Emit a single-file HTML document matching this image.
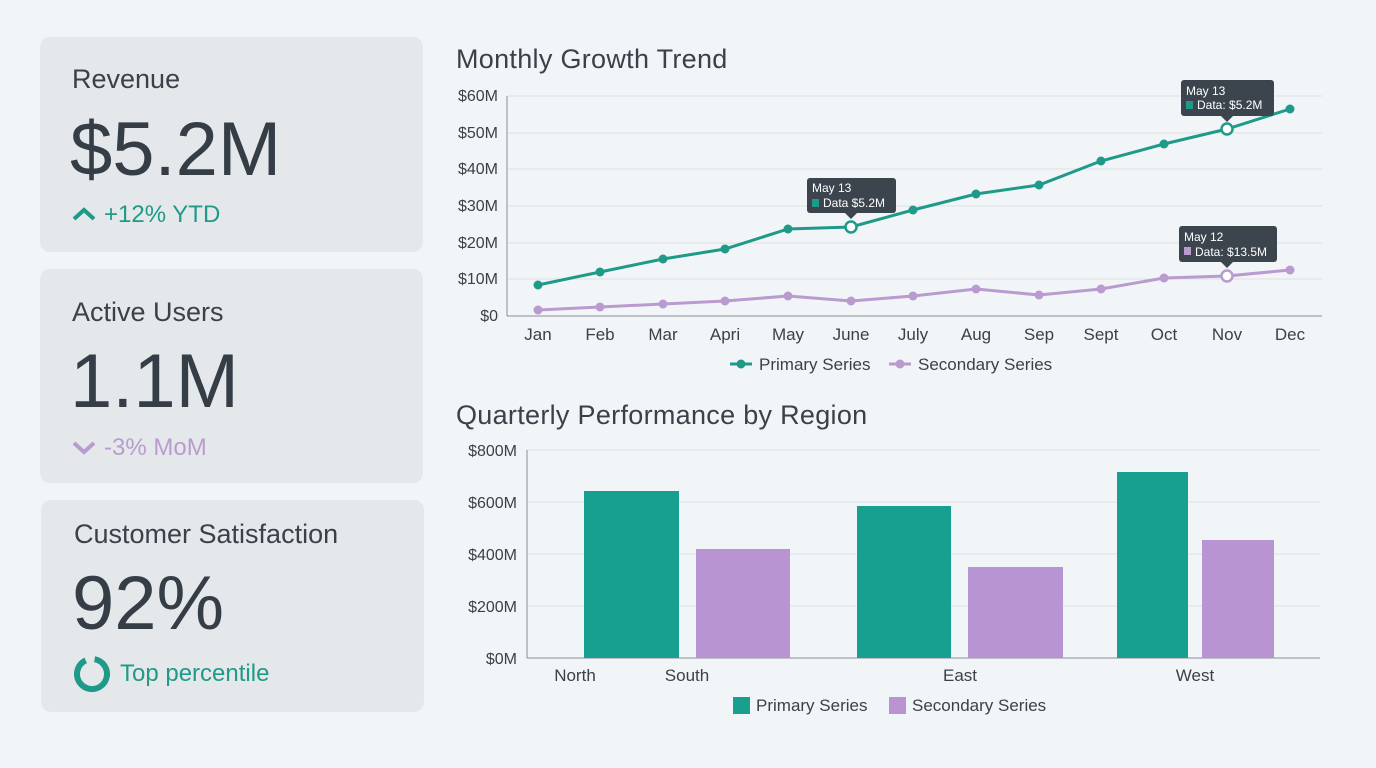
<!DOCTYPE html>
<html><head><style>
body{margin:0;width:1376px;height:768px;background:#f2f5f8;font-family:"Liberation Sans",sans-serif;overflow:hidden;position:relative}
.card{position:absolute;background:#e5e8eb;border-radius:10px}
.t{position:absolute;color:#3a4149;white-space:nowrap}
</style></head><body>
<div class="card" style="left:40px;top:37px;width:383px;height:215px"></div>
<div class="card" style="left:40px;top:269px;width:383px;height:214px"></div>
<div class="card" style="left:41px;top:500px;width:383px;height:212px"></div>
<div class="t" style="left:72px;top:64px;font-size:27px">Revenue</div>
<div class="t" style="left:70px;top:106px;font-size:76px;color:#353d46">$5.2M</div>
<div class="t" style="left:104px;top:201px;font-size:24px;color:#1f9a88">+12% YTD</div>
<svg style="position:absolute;left:72px;top:206px" width="24" height="16"><path d="M2 13 L12 4 L22 13" stroke="#1f9a88" stroke-width="4" fill="none"/></svg>
<div class="t" style="left:72px;top:297px;font-size:27px">Active Users</div>
<div class="t" style="left:70px;top:338px;font-size:76px;color:#353d46">1.1M</div>
<div class="t" style="left:104px;top:434px;font-size:24px;color:#b99bd0">-3% MoM</div>
<svg style="position:absolute;left:72px;top:440px" width="24" height="16"><path d="M2 3 L12 12 L22 3" stroke="#b99bd0" stroke-width="4" fill="none"/></svg>
<div class="t" style="left:74px;top:519px;font-size:27px">Customer Satisfaction</div>
<div class="t" style="left:72px;top:560px;font-size:76px;color:#353d46">92%</div>
<svg style="position:absolute;left:73px;top:655px" width="38" height="38"><circle cx="19" cy="19" r="15" stroke="#1f9a88" stroke-width="6" fill="none" stroke-dasharray="85 10" transform="rotate(-80 19 19)"/></svg>
<div class="t" style="left:120px;top:660px;font-size:24px;color:#1f9a88">Top percentile</div>

<svg style="position:absolute;left:0;top:0" width="1376" height="768" font-family="Liberation Sans, sans-serif">
<text x="456" y="68" font-size="27" letter-spacing="0.3" fill="#3a4149">Monthly Growth Trend</text>
<g stroke="#dde1e5" stroke-width="1">
<line x1="507" y1="96" x2="1322" y2="96"/><line x1="507" y1="133" x2="1322" y2="133"/><line x1="507" y1="169" x2="1322" y2="169"/><line x1="507" y1="206" x2="1322" y2="206"/><line x1="507" y1="243" x2="1322" y2="243"/><line x1="507" y1="279" x2="1322" y2="279"/></g>
<line x1="507" y1="316" x2="1322" y2="316" stroke="#8a9098"/><line x1="507" y1="96" x2="507" y2="316" stroke="#8a9098"/>
<g font-size="16" fill="#3a4149" text-anchor="end">
<text x="498" y="101">$60M</text><text x="498" y="138">$50M</text><text x="498" y="174">$40M</text><text x="498" y="211">$30M</text><text x="498" y="248">$20M</text><text x="498" y="284">$10M</text><text x="498" y="321">$0</text></g>
<g font-size="17" fill="#3a4149" text-anchor="middle">
<text x="538" y="340">Jan</text><text x="600" y="340">Feb</text><text x="663" y="340">Mar</text><text x="725" y="340">Apri</text><text x="788" y="340">May</text><text x="851" y="340">June</text><text x="913" y="340">July</text><text x="976" y="340">Aug</text><text x="1039" y="340">Sep</text><text x="1101" y="340">Sept</text><text x="1164" y="340">Oct</text><text x="1227" y="340">Nov</text><text x="1290" y="340">Dec</text></g>
<polyline fill="none" stroke="#1f9a88" stroke-width="3" points="538,285 600,272 663,259 725,249 788,229 851,227 913,210 976,194 1039,185 1101,161 1164,144 1227,129 1290,109"/>
<polyline fill="none" stroke="#b99bd0" stroke-width="3" points="538,310 600,307 663,304 725,301 788,296 851,301 913,296 976,289 1039,295 1101,289 1164,278 1227,276 1290,270"/>
<g fill="#1f9a88"><circle cx="538" cy="285" r="4.5"/><circle cx="600" cy="272" r="4.5"/><circle cx="663" cy="259" r="4.5"/><circle cx="725" cy="249" r="4.5"/><circle cx="788" cy="229" r="4.5"/><circle cx="913" cy="210" r="4.5"/><circle cx="976" cy="194" r="4.5"/><circle cx="1039" cy="185" r="4.5"/><circle cx="1101" cy="161" r="4.5"/><circle cx="1164" cy="144" r="4.5"/><circle cx="1290" cy="109" r="4.5"/></g>
<g fill="#b99bd0"><circle cx="538" cy="310" r="4.5"/><circle cx="600" cy="307" r="4.5"/><circle cx="663" cy="304" r="4.5"/><circle cx="725" cy="301" r="4.5"/><circle cx="788" cy="296" r="4.5"/><circle cx="851" cy="301" r="4.5"/><circle cx="913" cy="296" r="4.5"/><circle cx="976" cy="289" r="4.5"/><circle cx="1039" cy="295" r="4.5"/><circle cx="1101" cy="289" r="4.5"/><circle cx="1164" cy="278" r="4.5"/><circle cx="1290" cy="270" r="4.5"/></g>
<circle cx="851" cy="227" r="5.5" fill="#fff" stroke="#1f9a88" stroke-width="2.5"/>
<circle cx="1227" cy="129" r="5.5" fill="#fff" stroke="#1f9a88" stroke-width="2.5"/>
<circle cx="1227" cy="276" r="5.5" fill="#fff" stroke="#b99bd0" stroke-width="2.5"/>
<g font-size="12" fill="#fff">
<rect x="807" y="178" width="89" height="35" rx="3" fill="#3c454e"/><path d="M845 213 L851 219 L857 213Z" fill="#3c454e"/>
<text x="812" y="192">May 13</text><rect x="812" y="199" width="7" height="8" fill="#1f9a88"/><text x="823" y="207">Data $5.2M</text>
<rect x="1181" y="80" width="93" height="36" rx="3" fill="#3c454e"/><path d="M1221 116 L1227 122 L1233 116Z" fill="#3c454e"/>
<text x="1186" y="95">May 13</text><rect x="1186" y="101" width="7" height="8" fill="#1f9a88"/><text x="1197" y="109">Data: $5.2M</text>
<rect x="1179" y="226" width="98" height="36" rx="3" fill="#3c454e"/><path d="M1221 262 L1227 268 L1233 262Z" fill="#3c454e"/>
<text x="1184" y="241">May 12</text><rect x="1184" y="247" width="7" height="8" fill="#b99bd0"/><text x="1195" y="256">Data: $13.5M</text></g>
<line x1="730" y1="364" x2="752" y2="364" stroke="#1f9a88" stroke-width="3"/><circle cx="741" cy="364" r="4.5" fill="#1f9a88"/>
<text x="759" y="370" font-size="17" fill="#3a4149">Primary Series</text>
<line x1="889" y1="364" x2="911" y2="364" stroke="#b99bd0" stroke-width="3"/><circle cx="900" cy="364" r="4.5" fill="#b99bd0"/>
<text x="918" y="370" font-size="17" fill="#3a4149">Secondary Series</text>

<text x="456" y="424" font-size="27" letter-spacing="0.3" fill="#3a4149">Quarterly Performance by Region</text>
<g stroke="#dde1e5"><line x1="527" y1="450" x2="1320" y2="450"/><line x1="527" y1="502" x2="1320" y2="502"/><line x1="527" y1="554" x2="1320" y2="554"/><line x1="527" y1="606" x2="1320" y2="606"/></g>
<line x1="527" y1="658" x2="1320" y2="658" stroke="#8a9098"/><line x1="527" y1="450" x2="527" y2="658" stroke="#8a9098"/>
<g font-size="16" fill="#3a4149" text-anchor="end">
<text x="517" y="456">$800M</text><text x="517" y="508">$600M</text><text x="517" y="560">$400M</text><text x="517" y="612">$200M</text><text x="517" y="664">$0M</text></g>
<rect x="584" y="491" width="95" height="167" fill="#17a090"/>
<rect x="696" y="549" width="94" height="109" fill="#b894d2"/>
<rect x="857" y="506" width="94" height="152" fill="#17a090"/>
<rect x="968" y="567" width="95" height="91" fill="#b894d2"/>
<rect x="1117" y="472" width="71" height="186" fill="#17a090"/>
<rect x="1202" y="540" width="72" height="118" fill="#b894d2"/>
<g font-size="17" fill="#3a4149" text-anchor="middle">
<text x="575" y="681">North</text><text x="687" y="681">South</text><text x="960" y="681">East</text><text x="1195" y="681">West</text></g>
<rect x="733" y="697" width="17" height="17" fill="#17a090"/><text x="756" y="711" font-size="17" fill="#3a4149">Primary Series</text>
<rect x="889" y="697" width="17" height="17" fill="#b894d2"/><text x="912" y="711" font-size="17" fill="#3a4149">Secondary Series</text>
</svg>
</body></html>
